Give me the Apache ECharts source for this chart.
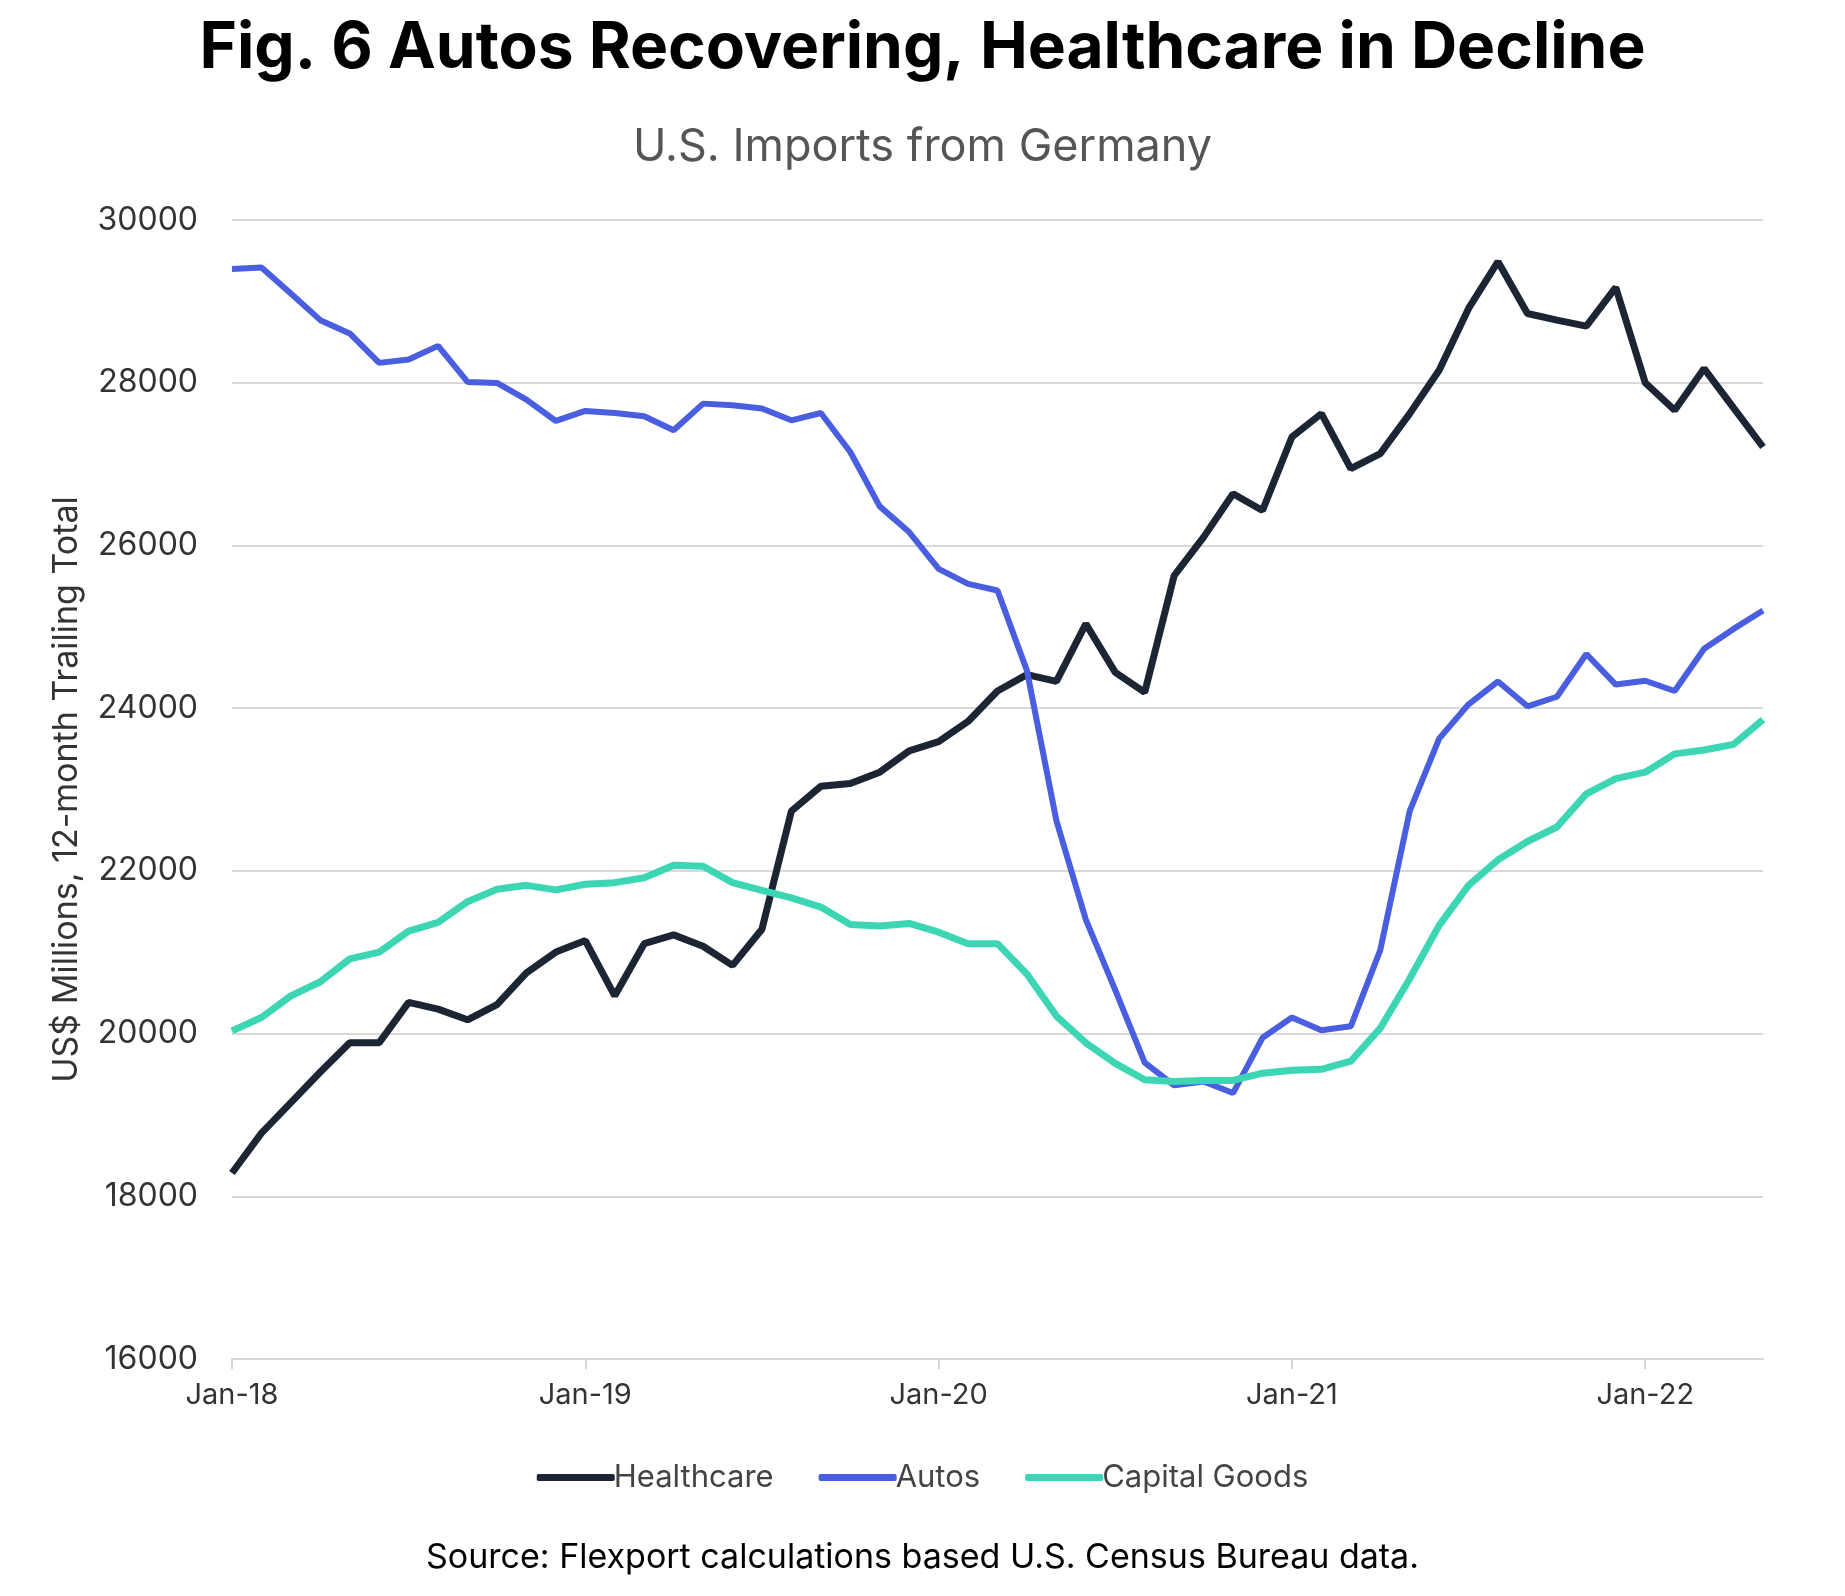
<!DOCTYPE html>
<html>
<head>
<meta charset="utf-8">
<script src="https://cdn.jsdelivr.net/npm/echarts@6/dist/echarts.min.js"></script>
<style>
html,body{margin:0;padding:0;background:#fff;}
#chart{width:1845px;height:1596px;}
</style>
</head>
<body>
<div id="chart"></div>
<script>
const months = ['Jan','Feb','Mar','Apr','May','Jun','Jul','Aug','Sep','Oct','Nov','Dec'];
const categories = [];
for (let y = 18; y <= 22; y++) {
  for (let m = 0; m < 12; m++) {
    if (y === 22 && m > 4) break;
    categories.push(months[m] + '-' + y);
  }
}
const healthcare = [18286,18777,19152,19527,19888,19888,20384,20300,20169,20356,20745,21002,
  21143,20464,21105,21213,21073,20838,21283,22735,23040,23073,23213,23475,
  23588,23836,24211,24412,24328,25035,24440,24194,25630,26102,26636,26430,
  27333,27620,26943,27128,27620,28154,28913,29487,28851,28770,28695,29171,
  28000,27661,28174,27690,27210];
const autos = [29397,29417,29097,28769,28605,28244,28285,28453,28010,27998,27793,27530,
  27653,27628,27587,27415,27743,27723,27682,27538,27628,27148,26480,26164,
  25712,25528,25446,24461,22618,21400,20534,19644,19363,19410,19269,19948,
  20197,20042,20089,21026,22735,23625,24047,24328,24023,24140,24665,24290,
  24337,24211,24730,24974,25200];
const capitalGoods = [20033,20197,20464,20637,20918,21002,21260,21368,21621,21775,21822,21766,
  21836,21855,21916,22070,22056,21855,21761,21668,21555,21340,21321,21354,
  21246,21105,21105,20731,20215,19887,19634,19433,19410,19424,19424,19513,
  19550,19560,19660,20066,20674,21330,21822,22136,22361,22539,22946,23133,
  23213,23438,23485,23555,23859];
const yTicks = {min:16000, max:30000, interval:2000};

const FONT = 'Inter';
const chart = echarts.init(document.getElementById('chart'));
chart.setOption({
  backgroundColor:'#fff',
  animation:false,
  title:[
    {text:'Fig. 6 Autos Recovering, Healthcare in Decline', left:'center', top:12,
     textStyle:{fontFamily:FONT, fontSize:64, fontWeight:'bold', color:'#000'}},
    {text:'U.S. Imports from Germany', left:'center', top:120,
     textStyle:{fontFamily:FONT, fontSize:45, fontWeight:'normal', color:'#555'}},
    {text:'Source: Flexport calculations based U.S. Census Bureau data.', left:'center', top:1536,
     textStyle:{fontFamily:FONT, fontSize:34, fontWeight:'normal', color:'#000'}}
  ],
  legend:{
    top:1457, left:'center', itemWidth:78, itemHeight:7, itemGap:45,
    icon:'roundRect',
    textStyle:{fontFamily:FONT, fontSize:31, color:'#444', padding:[0,0,0,-6]},
    data:['Healthcare','Autos','Capital Goods']
  },
  grid:{left:232, right:82, top:220, bottom:237, containLabel:false},
  xAxis:{
    type:'category', data:categories, boundaryGap:false,
    axisLine:{show:true, lineStyle:{color:'#d6d6d6', width:2}},
    axisTick:{show:true, interval:11, length:10, lineStyle:{color:'#d6d6d6', width:2}},
    axisLabel:{interval:11, margin:22, fontFamily:FONT, fontSize:29, color:'#333'},
    splitLine:{show:false}
  },
  yAxis:{
    type:'value', min:yTicks.min, max:yTicks.max, interval:yTicks.interval,
    name:'US$ Millions, 12-month Trailing Total', nameLocation:'middle', nameGap:148,
    nameTextStyle:{fontFamily:FONT, fontSize:34, color:'#333'},
    axisLine:{show:false}, axisTick:{show:false},
    axisLabel:{margin:34, fontFamily:FONT, fontSize:32, color:'#333',
      formatter:function(v){return String(v);}},
    splitLine:{lineStyle:{color:'#d9d9d9', width:2}}
  },
  series:[
    {name:'Healthcare', type:'line', data:healthcare, symbol:'none',
     lineStyle:{color:'#1c2533', width:7}, itemStyle:{color:'#1c2533'}},
    {name:'Autos', type:'line', data:autos, symbol:'none',
     lineStyle:{color:'#4a5ee0', width:6}, itemStyle:{color:'#4a5ee0'}},
    {name:'Capital Goods', type:'line', data:capitalGoods, symbol:'none',
     lineStyle:{color:'#3dd6b5', width:7}, itemStyle:{color:'#3dd6b5'}}
  ]
});
</script>
</body>
</html>
